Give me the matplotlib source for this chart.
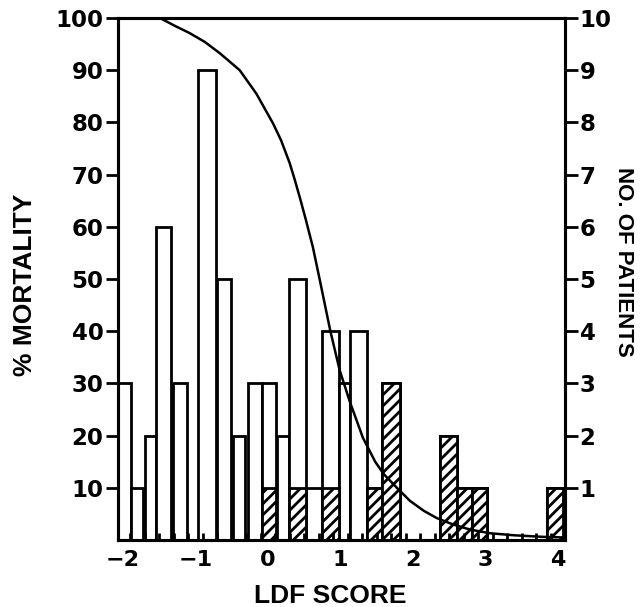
import matplotlib
matplotlib.use("Agg")
import matplotlib.pyplot as plt
import numpy as np

# ---- data ----
bin_left = [-2.07, -1.89, -1.70, -1.55, -1.31, -0.97, -0.70, -0.48, -0.28, -0.08,
            0.12, 0.29, 0.52, 0.74, 0.98, 1.13, 1.37, 1.57, 2.37, 2.61, 2.81, 3.85]
bin_right = [-1.89, -1.72, -1.55, -1.34, -1.12, -0.72, -0.51, -0.32, -0.08, 0.11,
             0.29, 0.52, 0.74, 0.98, 1.13, 1.37, 1.57, 1.82, 2.61, 2.81, 3.02, 4.07]
total_patients = [3, 1, 2, 6, 3, 9, 5, 2, 3, 3, 2, 5, 1, 4, 3, 4, 1, 3, 2, 1, 1, 1]
deaths = [0, 0, 0, 0, 0, 0, 0, 0, 0, 1, 0, 1, 0, 1, 0, 0, 1, 3, 2, 1, 1, 1]

curve_x = [-1.49, -1.30, -1.08, -0.87, -0.66, -0.39, -0.16, 0.07, 0.18, 0.30, 0.37,
           0.44, 0.52, 0.62, 0.72, 0.86, 0.99, 1.13, 1.31, 1.48, 1.60, 1.78, 1.96,
           2.15, 2.33, 2.55, 2.79, 3.06, 3.40, 3.80, 4.05]
curve_y = [100, 98.6, 97.1, 95.4, 93.2, 90.0, 85.5, 79.8, 76.6, 72.2, 69.0,
           65.6, 61.5, 56.1, 49.5, 40.1, 32.5, 26.5, 19.6, 15.0, 12.6, 10.0, 7.5,
           5.6, 4.2, 3.0, 2.0, 1.3, 0.9, 0.6, 0.5]

x_ticks = [-2, -1, 0, 1, 2, 3, 4]
x_tick_labels = ['\u22122', '\u22121', '0', '1', '2', '3', '4']
left_ticks = [10, 20, 30, 40, 50, 60, 70, 80, 90, 100]
right_ticks = [1, 2, 3, 4, 5, 6, 7, 8, 9, 10]

# ---- style ----
plt.rcParams['font.family'] = ['DejaVu Sans']
plt.rcParams['font.weight'] = 'bold'
plt.rcParams['hatch.linewidth'] = 2.0

W, H = 640, 607
fig = plt.figure(figsize=(6.4, 6.07), dpi=100)
ax = fig.add_axes([118 / W, 1 - 540 / H, (565 - 118) / W, (540 - 18) / H])
ax2 = ax.twinx()

lw = 2.0
widths = [r - l for l, r in zip(bin_left, bin_right)]
ax2.bar(bin_left, total_patients, width=widths, align='edge',
        facecolor='white', edgecolor='black', linewidth=lw, zorder=2)
ax2.bar(bin_left, deaths, width=widths, align='edge',
        facecolor='white', edgecolor='black', linewidth=lw, hatch='///', zorder=3)

ax2.set_ylim(0, 10)
ax.set_ylim(0, 100)
ax.set_xlim(-2.07, 4.1)

# mortality curve in % units on the left axis
ax.plot(curve_x, curve_y, color='black', linewidth=1.8, zorder=4,
        solid_capstyle='round', solid_joinstyle='round')

ax.set_xticks(x_ticks)
ax.set_xticklabels(x_tick_labels)
ax.set_xticks(np.arange(-1.9, 4.0, 0.2), minor=True)
ax.set_yticks(left_ticks)
ax2.set_yticks(right_ticks)

for a in (ax, ax2):
    for s in a.spines.values():
        s.set_linewidth(2.2)

ax.tick_params(axis='x', which='major', direction='in', length=0, width=2,
               labelsize=16, pad=7)
ax.tick_params(axis='x', which='minor', direction='in', length=5, width=2)
ax.tick_params(axis='y', direction='out', length=9, width=2, labelsize=16.5, pad=1.5)
ax2.tick_params(axis='y', direction='out', length=9, width=2, labelsize=16.5, pad=1.5)

lab = dict(family=['Liberation Sans', 'DejaVu Sans'], fontweight='bold')
fig.text(330 / W, 1 - 596 / H, 'LDF SCORE', ha='center', va='center',
         fontsize=19, **lab)
fig.text(25 / W, 1 - 285 / H, '% MORTALITY', ha='center', va='center',
         rotation=90, fontsize=19, **lab)
fig.text(623 / W, 1 - 262 / H, 'NO. OF PATIENTS', ha='center', va='center',
         rotation=-90, fontsize=16, **lab)

ax.set_zorder(ax2.get_zorder() + 1)
ax.patch.set_visible(False)

fig.savefig('out.png', dpi=100)
